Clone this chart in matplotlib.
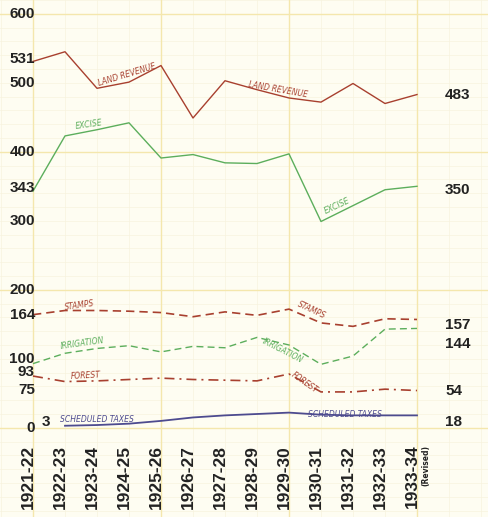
import numpy as np
import matplotlib.pyplot as plt

# Provincial revenue heads, 1921-22 to 1933-34 (lakhs)
years = ['1921-22', '1922-23', '1923-24', '1924-25', '1925-26', '1926-27', '1927-28',
         '1928-29', '1929-30', '1930-31', '1931-32', '1932-33', '1933-34']
land_revenue = [531, 545, 492, 501, 525, 449, 503, 490, 478, 472, 499, 470, 483]
excise = [343, 423, 432, 442, 391, 396, 384, 383, 397, 299, 322, 345, 350]
stamps = [164, 170, 170, 169, 167, 161, 168, 163, 172, 152, 147, 158, 157]
irrigation = [93, 108, 115, 119, 110, 118, 116, 131, 120, 92, 104, 143, 144]
forest = [75, 67, 68, 70, 72, 70, 69, 68, 78, 52, 52, 56, 54]
scheduled_taxes = [np.nan, 3, 4, 6, 10, 15, 18, 20, 22, 19, 18, 18, 18]

left_labels = [600, 531, 500, 400, 343, 300, 200, 164, 100, 93, 75, 0]
right_labels = [483, 350, 157, 144, 54, 18]

bg = '#fefdf2'
red = '#a8402f'
green = '#5cae5c'
blue = '#4d4b8f'
ink = '#222222'

# axes fill the whole figure so the graph paper runs edge to edge
fig = plt.figure(figsize=(4.89, 5.17), dpi=100, facecolor=bg)
ax = fig.add_axes([0, 0, 1, 1])
ax.set_facecolor(bg)
x = np.arange(len(years))
ax.set_xlim(-33 / 32, 456 / 32)
ax.set_ylim(620 - 517 / 0.69, 620)
ax.set_xticks([])
ax.set_yticks([])
for s in ax.spines.values():
    s.set_visible(False)

# graph paper
for xv in np.arange(-1, 15):
    ax.axvline(xv, color='#f7f3df', lw=0.5, zorder=0)
for yv in np.arange(-120, 621, 20):
    ax.axhline(yv, color='#f7f3df', lw=0.5, zorder=0)
for xv in [0, 4, 8, 12]:
    ax.axvline(xv, color='#f4e7ad', lw=1.0, zorder=0)
for yv in [0, 200, 400, 600]:
    ax.axhline(yv, color='#f4e7ad', lw=1.0, zorder=0)

ax.plot(x, land_revenue, color=red, lw=1.0)
ax.plot(x, excise, color=green, lw=1.0)
ax.plot(x, stamps, color=red, lw=1.2, dashes=(5, 3))
ax.plot(x, irrigation, color=green, lw=1.0, dashes=(5, 3))
ax.plot(x, forest, color=red, lw=1.2, dashes=(6, 3, 1.2, 3))
ax.plot(x, scheduled_taxes, color=blue, lw=1.3)

# hand-lettered labels along the lines
lab = dict(fontsize=5.5, style='italic', ha='center', va='center')
ax.text(2.95, 512, 'LAND REVENUE', color=red, rotation=17, **lab)
ax.text(7.65, 490, 'LAND REVENUE', color=red, rotation=-10, **lab)
ax.text(1.75, 440, 'EXCISE', color=green, rotation=8, **lab)
ax.text(9.5, 322, 'EXCISE', color=green, rotation=25, **lab)
ax.text(1.45, 178, 'STAMPS', color=red, rotation=8, **lab)
ax.text(8.7, 170, 'STAMPS', color=red, rotation=-25, **lab)
ax.text(1.55, 122, 'IRRIGATION', color=green, rotation=8, **lab)
ax.text(7.8, 112, 'IRRIGATION', color=green, rotation=-27, **lab)
ax.text(1.65, 75, 'FOREST', color=red, rotation=3, **lab)
ax.text(8.5, 66, 'FOREST', color=red, rotation=-35, **lab)
ax.text(2.0, 12, 'SCHEDULED TAXES', color=blue, **lab)
ax.text(9.75, 19, 'SCHEDULED TAXES', color=blue, **lab)

num = dict(fontsize=11, fontweight='bold', family='Liberation Sans', color=ink)
left_dy = {93: -8, 75: -14, 343: 3, 531: 2}
for v in left_labels:
    ax.annotate(str(v), xy=(0, v), xytext=(2, left_dy.get(v, 0)),
                textcoords='offset pixels', ha='right', va='center', **num)
ax.annotate(str(scheduled_taxes[1]), xy=(0, scheduled_taxes[1]),
            xytext=(9, 4), textcoords='offset pixels', ha='left', va='center', **num)

right_dy = {350: -4, 157: -6, 144: -16, 18: -7}
ends = [land_revenue[-1], excise[-1], stamps[-1], irrigation[-1], forest[-1], scheduled_taxes[-1]]
for v, e in zip(right_labels, ends):
    ax.annotate(str(v), xy=(x[-1], e), xytext=(28, right_dy.get(v, 0)),
                textcoords='offset pixels', ha='left', va='center', **num)

# year labels under the zero line
for xi, yr in zip(x, years):
    ax.annotate(yr, xy=(xi, 0), xytext=(-5, -17), textcoords='offset pixels',
                rotation=90, ha='center', va='top', fontsize=12.5,
                fontweight='bold', family='Liberation Sans', color=ink)
ax.annotate('(Revised)', xy=(x[-1], 0), xytext=(9, -17), textcoords='offset pixels',
            rotation=90, ha='center', va='top', fontsize=5.5, fontweight='bold', color=ink)

fig.savefig('out.png', dpi=100, facecolor=bg)
